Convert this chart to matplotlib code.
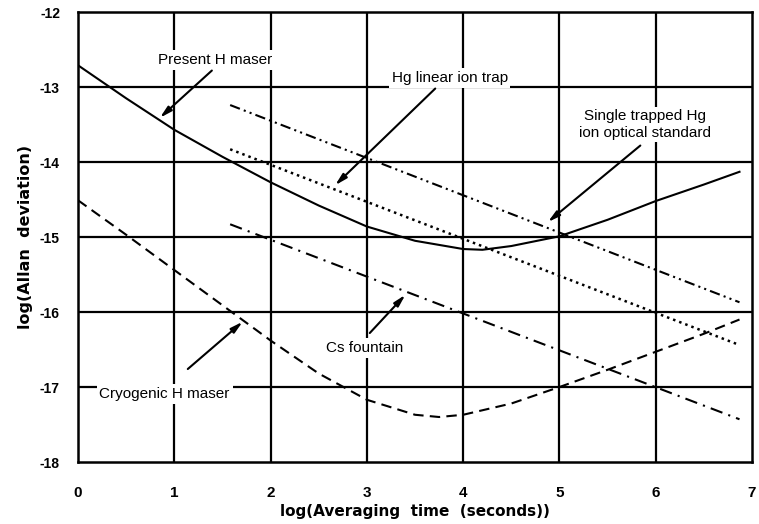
import matplotlib
matplotlib.use("Agg")
import matplotlib.pyplot as plt

plt.rcParams['font.family'] = ['Liberation Sans', 'DejaVu Sans']

# values (x = log averaging time, y = log Allan deviation)
present_x = [0, 0.5, 1, 1.5, 2, 2.5, 3, 3.5, 4, 4.2, 4.5, 5, 5.5, 6, 6.5, 6.87]
present_y = [-12.71, -13.15, -13.57, -13.93, -14.27, -14.58, -14.86, -15.05,
             -15.16, -15.17, -15.12, -14.99, -14.77, -14.52, -14.30, -14.13]

cryo_x = [0, 0.5, 1, 1.5, 2, 2.5, 3, 3.5, 3.75, 4, 4.5, 5, 5.5, 6, 6.5, 6.87]
cryo_y = [-14.51, -14.97, -15.44, -15.91, -16.38, -16.82, -17.17, -17.37,
          -17.40, -17.37, -17.22, -17.00, -16.77, -16.53, -16.29, -16.10]

hg_trap_x = [1.58, 6.87]
hg_trap_y = [-13.83, -16.44]

hg_optical_x = [1.58, 6.87]
hg_optical_y = [-13.24, -15.87]

cs_x = [1.58, 6.87]
cs_y = [-14.83, -17.43]

x_ticks = [0, 1, 2, 3, 4, 5, 6, 7]
y_ticks = [-18, -17, -16, -15, -14, -13, -12]
y_tick_labels = ["-18", "-17", "-16", "-15", "-14", "-13", "-12"]

fig = plt.figure(figsize=(7.59, 5.24), dpi=100)
ax = fig.add_axes([0.1028, 0.1183, 0.888, 0.8587])

ax.set_xlim(0, 7)
ax.set_ylim(-18, -12)
for x in x_ticks[1:-1]:
    ax.axvline(x, color="black", lw=1.6, zorder=1)
for y in y_ticks[1:-1]:
    ax.axhline(y, color="black", lw=1.6, zorder=1)
for s in ax.spines.values():
    s.set_linewidth(1.8)

ax.plot(present_x, present_y, color="black", lw=1.5, zorder=3)
ax.plot(cryo_x, cryo_y, color="black", lw=1.5, ls=(0, (5, 3)), zorder=3)
ax.plot(hg_trap_x, hg_trap_y, color="black", lw=1.8, ls=(0, (1, 1.6)), zorder=3)
ax.plot(hg_optical_x, hg_optical_y, color="black", lw=1.5,
        ls=(0, (5, 2, 1, 2, 1, 2)), zorder=3)
ax.plot(cs_x, cs_y, color="black", lw=1.5, ls=(0, (6, 3, 1, 3)), zorder=3)

box = dict(facecolor="white", edgecolor="none", pad=2)
arrow = dict(arrowstyle="-|>,head_length=0.7,head_width=0.18", color="black",
             lw=1.5, shrinkA=0, shrinkB=0)


def label(text, pos):
    ax.text(*pos, text, ha="center", va="center", fontsize=11,
            bbox=box, zorder=4)


label("Present H maser", (1.42, -12.64))
ax.annotate("", xy=(0.85, -13.41), xytext=(1.39, -12.78), arrowprops=arrow, zorder=5)

label("Hg linear ion trap", (3.86, -12.88))
ax.annotate("", xy=(2.67, -14.31), xytext=(3.71, -13.02), arrowprops=arrow, zorder=5)

label("Single trapped Hg\nion optical standard", (5.89, -13.5))
ax.annotate("", xy=(4.88, -14.8), xytext=(5.84, -13.78), arrowprops=arrow, zorder=5)

label("Cs fountain", (2.98, -16.48))
ax.annotate("", xy=(3.4, -15.77), xytext=(3.03, -16.28), arrowprops=arrow, zorder=5)

label("Cryogenic H maser", (0.9, -17.09))
ax.annotate("", xy=(1.71, -16.13), xytext=(1.14, -16.76), arrowprops=arrow, zorder=5)

ax.set_xticks(x_ticks)
ax.set_xticklabels([str(v) for v in x_ticks], fontsize=11, fontweight="bold")
ax.set_yticks(y_ticks)
ax.set_yticklabels(y_tick_labels, fontsize=10, fontweight="bold")
ax.tick_params(axis="both", length=0)
ax.tick_params(axis="x", pad=17)
ax.tick_params(axis="y", pad=13)

ax.set_xlabel("log(Averaging  time  (seconds))", fontsize=11, fontweight="bold",
              family="DejaVu Sans", labelpad=3)
ax.set_ylabel("log(Allan  deviation)", fontsize=11.5, fontweight="bold",
              family="DejaVu Sans", labelpad=5)

fig.savefig("out.png", dpi=100)
